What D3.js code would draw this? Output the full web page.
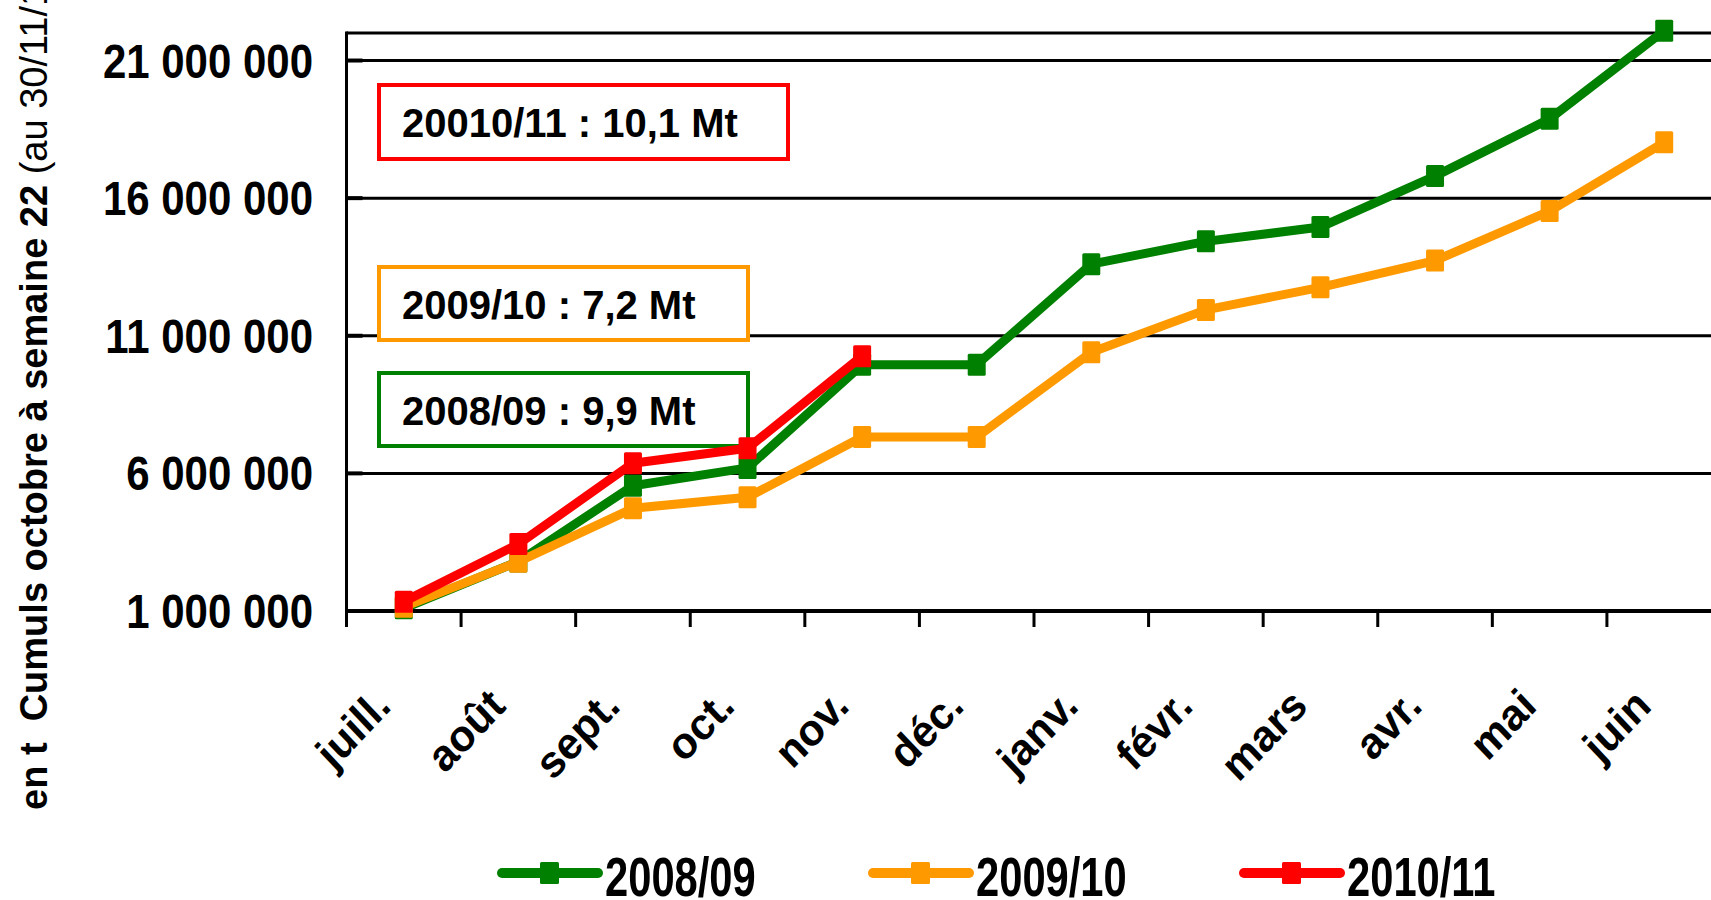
<!DOCTYPE html>
<html lang="fr">
<head>
    <meta charset="UTF-8">
    <title>Cumuls</title>
    <script type="text/javascript" src="https://cdnjs.cloudflare.com/ajax/libs/d3/7.8.5/d3.min.js"></script>
    <style>
        body {
            margin: 0;
            background: #fff;
        }

        svg {
            display: block;
            font-family: "Liberation Sans", Arial, sans-serif;
            font-weight: bold;
        }

        .grid line {
            stroke: #000;
            stroke-width: 3;
        }

        .series path {
            fill: none;
            stroke-width: 9;
            stroke-linejoin: round;
        }
    </style>
</head>
<body>
<svg width="1711" height="900"></svg>

<script>
    var months = ["juill.", "août", "sept.", "oct.", "nov.", "déc.", "janv.", "févr.", "mars", "avr.", "mai", "juin"];

    var values0809 = [1100000, 2800000, 5550000, 6200000, 9950000, 9950000, 13600000, 14430000, 14950000, 16800000, 18880000, 22080000];
    var values0910 = [1150000, 2790000, 4730000, 5130000, 7320000, 7320000, 10400000, 11940000, 12760000, 13730000, 15530000, 18030000];
    var values1011 = [1340000, 3430000, 6370000, 6910000, 10260000];

    var seriesNames = ["2008/09", "2009/10", "2010/11"];
    var seriesColors = ["#008000", "#ff9900", "#ff0000"];

    var yTicks = [1000000, 6000000, 11000000, 16000000, 21000000];

    var notes = ["20010/11 : 10,1 Mt", "2009/10 : 7,2 Mt", "2008/09 : 9,9 Mt"];

    var svg = d3.select("svg");

    var plotLeft = 346.5,
        plotRight = 1721.5,
        plotTop = 33,
        plotBottom = 611;

    var x = d3.scaleBand().domain(months).range([plotLeft, plotRight]);
    var y = d3.scaleLinear().domain([1000000, 22000000]).range([plotBottom, plotTop]);

    var fmt = d3.formatLocale({decimal: ",", thousands: " ", grouping: [3], currency: ["", ""]}).format(",");

    // gridlines + frame
    var grid = svg.append("g").attr("class", "grid");

    grid.selectAll("line.h")
        .data(yTicks.slice(1).concat([22000000]))
        .enter()
        .append("line")
        .attr("class", "h")
        .attr("x1", plotLeft)
        .attr("x2", plotRight)
        .attr("y1", function (d) { return y(d); })
        .attr("y2", function (d) { return y(d); });

    // small inward ticks on the value axis
    grid.selectAll("line.yt")
        .data(yTicks)
        .enter()
        .append("line")
        .attr("class", "yt")
        .attr("x1", plotLeft)
        .attr("x2", plotLeft + 16)
        .attr("y1", function (d) { return y(d); })
        .attr("y2", function (d) { return y(d); })
        .style("stroke-width", 4);

    grid.append("line")
        .attr("x1", plotLeft)
        .attr("x2", plotLeft)
        .attr("y1", plotTop - 1.5)
        .attr("y2", plotBottom + 16);

    grid.append("line")
        .attr("x1", plotLeft)
        .attr("x2", plotRight)
        .attr("y1", plotBottom)
        .attr("y2", plotBottom)
        .style("stroke-width", 4);

    grid.selectAll("line.xt")
        .data(months.slice(1))
        .enter()
        .append("line")
        .attr("class", "xt")
        .attr("x1", function (d) { return x(d); })
        .attr("x2", function (d) { return x(d); })
        .attr("y1", plotBottom)
        .attr("y2", plotBottom + 16);

    // y tick labels (condensed bold)
    svg.append("g")
        .selectAll("text")
        .data(yTicks)
        .enter()
        .append("text")
        .attr("transform", function (d) {
            return "translate(313," + (y(d) + 17) + ") scale(0.875,1)";
        })
        .attr("text-anchor", "end")
        .style("font-size", "48px")
        .text(function (d) { return fmt(d); });

    // month labels
    svg.append("g")
        .selectAll("text")
        .data(months)
        .enter()
        .append("text")
        .attr("transform", function (d) {
            return "translate(" + (x(d) + x.bandwidth() / 2 - 11) + ",708) scale(1,1.06) rotate(-45)";
        })
        .attr("text-anchor", "end")
        .style("font-size", "42px")
        .text(function (d) { return d; });

    // axis title
    var title = svg.append("text")
        .attr("transform", "translate(47,810) rotate(-90)")
        .style("font-size", "38px")
        .style("white-space", "pre");
    title.append("tspan").text("en t  Cumuls octobre à semaine 22");
    title.append("tspan").style("font-weight", "normal").text(" (au 30/11/10)");

    // annotation boxes
    var boxes = [
        {top: 85, h: 74, w: 409},
        {top: 267, h: 73, w: 369},
        {top: 373, h: 73, w: 369}
    ];
    var noteColors = [seriesColors[2], seriesColors[1], seriesColors[0]];

    var noteGroup = svg.append("g")
        .selectAll("g")
        .data(notes)
        .enter()
        .append("g");

    noteGroup.append("rect")
        .attr("x", 379)
        .attr("y", function (d, i) { return boxes[i].top; })
        .attr("width", function (d, i) { return boxes[i].w; })
        .attr("height", function (d, i) { return boxes[i].h; })
        .attr("fill", "#fff")
        .attr("stroke", function (d, i) { return noteColors[i]; })
        .attr("stroke-width", 4);

    noteGroup.append("text")
        .attr("x", 402)
        .attr("y", function (d, i) { return boxes[i].top + 52; })
        .style("font-size", "40px")
        .text(function (d) { return d; });

    // series
    var allSeries = [values0809, values0910, values1011];

    var line = d3.line()
        .x(function (d, i) { return x(months[i]) + x.bandwidth() / 2; })
        .y(function (d) { return y(d); });

    var seriesGroup = svg.append("g")
        .attr("class", "series")
        .selectAll("g")
        .data(allSeries)
        .enter()
        .append("g");

    seriesGroup.append("path")
        .attr("d", function (d) { return line(d); })
        .attr("stroke", function (d, i) { return seriesColors[i]; });

    seriesGroup.each(function (vals, si) {
        d3.select(this).selectAll("rect")
            .data(vals)
            .enter()
            .append("rect")
            .attr("x", function (d, i) { return x(months[i]) + x.bandwidth() / 2 - 9; })
            .attr("y", function (d) { return y(d) - 11; })
            .attr("width", 18)
            .attr("height", 22)
            .attr("rx", 1.5)
            .attr("fill", seriesColors[si]);
    });

    // legend
    var legendX = [502, 873, 1244];
    var legend = svg.append("g")
        .selectAll("g")
        .data(seriesNames)
        .enter()
        .append("g")
        .attr("transform", function (d, i) { return "translate(" + legendX[i] + ",873)"; });

    legend.append("line")
        .attr("x1", 0)
        .attr("x2", 96)
        .attr("stroke", function (d, i) { return seriesColors[i]; })
        .attr("stroke-width", 10)
        .attr("stroke-linecap", "round");

    legend.append("rect")
        .attr("x", 38)
        .attr("y", -11)
        .attr("width", 19)
        .attr("height", 22)
        .attr("rx", 1.5)
        .attr("fill", function (d, i) { return seriesColors[i]; });

    legend.append("text")
        .attr("transform", "translate(103,23) scale(0.745,1)")
        .style("font-size", "56px")
        .text(function (d) { return d; });
</script>
</body>
</html>
